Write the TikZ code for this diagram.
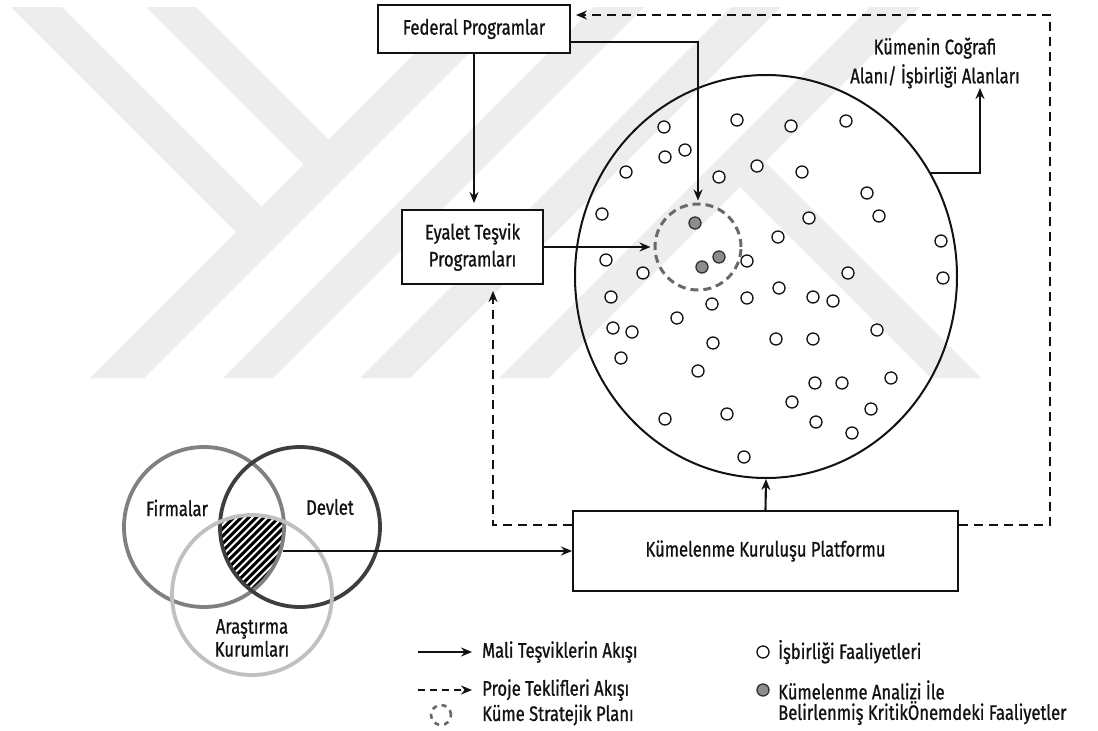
\documentclass[tikz,border=0pt]{standalone}
\usepackage{fontspec}
\setmainfont{Fira Sans}[FakeStretch=0.79,FakeBold=0.9]
\usetikzlibrary{arrows.meta,shapes.geometric}
\definecolor{wm}{RGB}{237,237,237}
\definecolor{ink}{RGB}{18,18,18}
\definecolor{plangray}{RGB}{105,105,105}
\definecolor{critfill}{RGB}{140,140,140}
\definecolor{firmc}{RGB}{128,128,128}
\definecolor{devc}{RGB}{62,62,62}
\definecolor{arac}{RGB}{192,192,192}
\tikzset{
  txt/.style={text=ink, font=\fontsize{21}{27}\selectfont, inner sep=0pt},
  lt/.style={txt, anchor=west},
  box/.style={draw=ink, line width=1.9pt, fill=white, txt, align=center},
  flow/.style={draw=ink, line width=2.1pt, -{Stealth[length=11pt,width=9pt]}},
  prop/.style={flow, dash pattern=on 9pt off 6pt},
  act/.style={circle, draw=ink, line width=1.3pt, fill=white, minimum size=12pt, inner sep=0pt},
  crit/.style={act, fill=critfill, draw=black!80},
  plan/.style={circle, draw=plangray, line width=3pt, dash pattern=on 8pt off 5pt, minimum size=86pt, inner sep=0pt},
  venn/.style={circle, line width=3.8pt, minimum size=160pt, inner sep=0pt}
}
\begin{document}
\begin{tikzpicture}[x=1pt,y=-1pt]
\useasboundingbox (0,0) rectangle (1098,731);
\fill[white] (0,0) rectangle (1098,731);
% watermark
\fill[wm] (90,378) -- (144,378) -- (515,7) -- (461,7) -- cycle;
\fill[wm] (11,7) -- (62,7) -- (261.5,206.5) -- (236,232) -- cycle;
\fill[wm] (146,7) -- (196,7) -- (328.5,139.5) -- (303.5,164.5) -- cycle;
\fill[wm] (223,378) -- (273,378) -- (644,7) -- (594,7) -- cycle;
\fill[wm] (360,378) -- (410,378) -- (781,7) -- (731,7) -- cycle;
\fill[wm] (499,378) -- (549,378) -- (920,7) -- (870,7) -- cycle;
\fill[wm] (740,187) -- (765,162) -- (981,378) -- (931,378) -- cycle;

% main boxes
\node[box, minimum width=192pt, minimum height=48pt] (fed) at (474,29) {Federal Programlar};
\node[box, minimum width=141pt, minimum height=74pt] (eya) at (472.5,247) {Eyalet Teşvik\\Programları};
\node[box, minimum width=385pt, minimum height=80pt] (kkp) at (765.5,551) {Kümelenme Kuruluşu Platformu};

% cluster area
\node[draw=ink, ellipse, line width=2pt, minimum width=382pt, minimum height=403pt, inner sep=0pt] (area) at (766,276.5) {};
\node[plan] (plan) at (698,247) {};

\foreach \x/\y [count=\i] in {664/127,737/120,791/126,846/121,665/157,685/150,626/172,757/166,719/177,802/172,
  867/193,879/216,602/214,809/218,778/237,941/241,606/260,643/273,747/261,848/273,
  943/278,611/297,779/288,747/298,712/304,813/297,833/301,677/318,613/328,632/332,
  776/339,813/339,713/343,877/330,621/358,698/371,815/383,842/383,891/378,792/402,
  871/409,665/419,727/414,816/422,852/433,744/457}
  \node[act] (a\i) at (\x,\y) {};
\node[crit] (c1) at (695,223) {};
\node[crit] (c2) at (719,257) {};
\node[crit] (c3) at (702,267) {};

\node[txt, align=center, font=\fontsize{21}{29}\selectfont] (lbl) at (935,63) {Kümenin Coğrafi\\Alanı/ İşbirliği Alanları};
\coordinate (lblpt) at (980,88);

% flows
\draw[flow, shorten >=6pt] (fed.south) -- (fed.south |- eya.north);
\draw[flow, shorten >=2pt] (fed.east |- 0,42) -| (plan.north);
\draw[flow, shorten >=3pt] (eya.east) -- (plan.west);
\draw[flow] (area.32) -| (lblpt);
\draw[flow] (kkp.north) -- (area.south);
\draw[prop, shorten >=5pt] (kkp.east |- 0,525) -| (1050,15) -- (fed.east |- 0,15);
\draw[prop, shorten >=6pt] (kkp.west |- 0,525) -| (eya.south -| 493,0);

% Venn diagram
\begin{scope}
  \clip (204,527) circle[radius=80pt];
  \clip (300,527) circle[radius=80pt];
  \clip (252,595) circle[radius=80pt];
  \fill[black] (180,480) rectangle (320,640);
  \foreach \k in {0,...,40}
    \draw[white, line width=1.9pt] (80+7.5*\k,660) -- ++(200,-200);
\end{scope}
\node[venn, draw=firmc] (firm) at (204,527) {};
\node[venn, draw=devc] (dev) at (300,527) {};
\node[venn, draw=arac] (ara) at (252,595) {};
\node[txt] (tf) at (177,508) {Firmalar};
\node[txt] (td) at (330,507) {Devlet};
\node[txt, align=center, font=\fontsize{21}{23}\selectfont] (ta) at (252,638) {Araştırma\\Kurumları};
\coordinate (vsrc) at (283,551);
\draw[flow] (vsrc) -- (kkp.west);

% legend
\coordinate (l1s) at (418,652);
\coordinate (l1e) at (472,652);
\draw[flow] (l1s) -- (l1e);
\node[lt] (t1) at (482,652) {Mali Teşviklerin Akışı};
\coordinate (l2s) at (418,690);
\coordinate (l2e) at (472,690);
\draw[flow, dash pattern=on 7pt off 5pt] (l2s) -- (l2e);
\node[lt] (t2) at (482,690) {Proje Teklifleri Akışı};
\node[plan, minimum size=20pt, line width=2.6pt, dash pattern=on 5pt off 5pt] (lp) at (441,715) {};
\node[lt] (t3) at (482,715) {Küme Stratejik Planı};
\node[act] (la) at (763,652) {};
\node[lt] (t4) at (778,652) {İşbirliği Faaliyetleri};
\node[crit] (lc) at (763,690) {};
\node[lt] (t5) at (778,690) {Kümelenme Analizi İle};
\node[lt] (t6) at (778,713) {Belirlenmiş KritikÖnemdeki Faaliyetler};
\end{tikzpicture}
\end{document}
